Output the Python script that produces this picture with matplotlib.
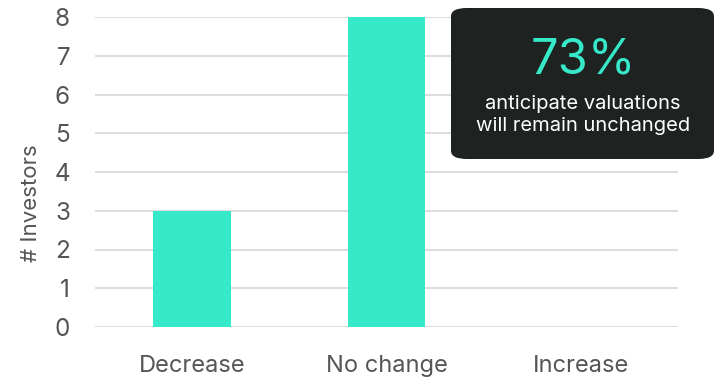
import matplotlib.pyplot as plt
from matplotlib.patches import FancyBboxPatch

categories = ["Decrease", "No change", "Increase"]
investors = [3, 8, 0]
y_ticks = [0, 1, 2, 3, 4, 5, 6, 7, 8]
callout_value = "73%"
callout_text = "anticipate valuations\nwill remain unchanged"

plt.rcParams["font.family"] = ["Inter", "DejaVu Sans"]

W, H = 716, 377
fig = plt.figure(figsize=(W / 100, H / 100), dpi=100)
ax = fig.add_axes([95 / W, 1 - 327 / H, (678 - 95) / W, (327 - 17) / H])

ax.bar(range(len(categories)), investors, width=0.4, color="#36e9c9", zorder=3)
ax.set_xlim(-0.5, len(categories) - 0.5)
ax.set_ylim(0, 8)
ax.set_yticks(y_ticks)
ax.set_xticks(range(len(categories)))
ax.set_xticklabels(categories)

ax.grid(axis="y", color="#dddddd", linewidth=1.5, zorder=0)
ax.tick_params(axis="both", length=0, labelcolor="#555555")
ax.tick_params(axis="y", pad=18, labelsize=17.5)
ax.tick_params(axis="x", pad=20, labelsize=17)
for s in ax.spines.values():
    s.set_visible(False)
ax.set_ylabel("# Investors", fontsize=16, color="#555555")
ax.yaxis.set_label_coords(-54 / (678 - 95), 0.40)

# callout box
box = FancyBboxPatch((451 / W, 1 - 159 / H), (714 - 451) / W, (159 - 8) / H,
                     boxstyle="round,pad=0,rounding_size=0.022",
                     transform=fig.transFigure, facecolor="#1e2321",
                     edgecolor="none", zorder=10)
fig.patches.append(box)
fig.text(583 / W, 1 - 60 / H, callout_value, ha="center", va="center",
         fontsize=35, color="#36e9c9", zorder=11)
fig.text(583 / W, 1 - 115 / H, callout_text, ha="center", va="center",
         fontsize=14.5, color="white", linespacing=1.25, zorder=11)

fig.savefig("out.png", dpi=100)
